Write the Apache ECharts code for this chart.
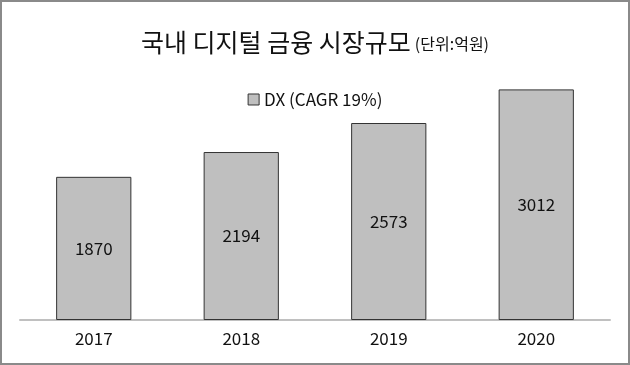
<!DOCTYPE html>
<html><head><meta charset="utf-8">
<script src="https://cdn.jsdelivr.net/npm/echarts@6/dist/echarts.min.js"></script>
<style>html,body{margin:0;padding:0;background:#fff}#c{width:630px;height:365px}</style>
</head><body><div id="c"></div>
<script>
const categories = ['2017', '2018', '2019', '2020'];
const seriesName = 'DX (CAGR 19%)';
const values = [1870, 2194, 2573, 3012];
const titleMain = '국내 디지털 금융 시장규모';
const titleUnit = '(단위:억원)';

const FONT = '"Noto Sans CJK KR", "Noto Sans", sans-serif';
const chart = echarts.init(document.getElementById('c'));
chart.setOption({
  animation: false,
  backgroundColor: '#fff',
  textStyle: { fontFamily: FONT },
  title: {
    left: 'center', top: 25,
    text: '{a|' + titleMain + '} {b|' + titleUnit + '}',
    textStyle: {
      rich: {
        a: { fontFamily: FONT, fontSize: 25, color: '#111', fontWeight: 'normal' },
        b: { fontFamily: FONT, fontSize: 16, color: '#111', fontWeight: 'normal', padding: [3, 0, 0, 0] }
      }
    }
  },
  legend: {
    top: 86, left: 'center',
    icon: 'rect',
    itemWidth: 11, itemHeight: 11, itemGap: 4,
    itemStyle: { borderColor: '#333', borderWidth: 1 },
    textStyle: { fontFamily: FONT, fontSize: 17, color: '#111' },
    data: [seriesName]
  },
  graphic: [{
    type: 'rect', silent: true, z: 100,
    shape: { x: 1, y: 1, width: 628, height: 363 },
    style: { fill: 'none', stroke: '#8a8a8a', lineWidth: 2 }
  }],
  grid: { left: 20, right: 20, top: 75, bottom: 45, containLabel: false },
  xAxis: {
    type: 'category', data: categories,
    axisLine: { lineStyle: { color: '#c0c0c0', width: 2 } },
    axisTick: { show: false },
    axisLabel: { fontFamily: FONT, fontSize: 17, color: '#111', margin: 10 }
  },
  yAxis: {
    type: 'value', min: 0, max: 3200, show: false,
    splitLine: { show: false }
  },
  series: [{
    name: seriesName, type: 'bar', data: values,
    barWidth: '51%',
    itemStyle: { color: '#bfbfbf', borderColor: '#333', borderWidth: 1 },
    label: { show: true, position: 'inside', fontFamily: FONT, fontSize: 17, color: '#111' }
  }]
});
</script></body></html>
